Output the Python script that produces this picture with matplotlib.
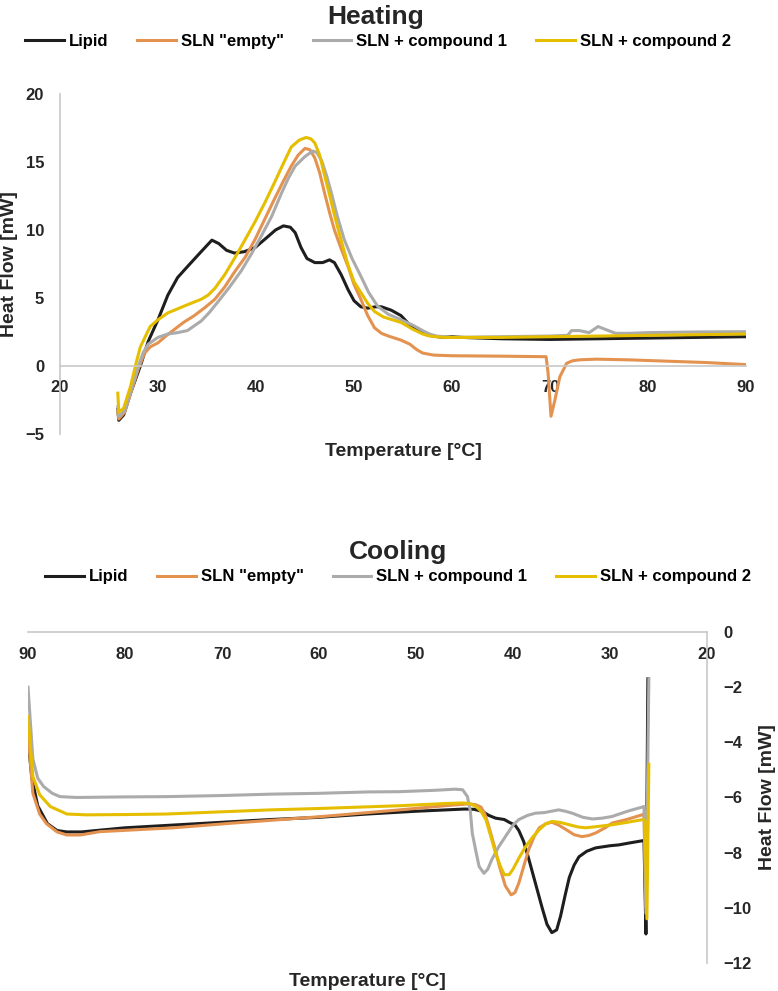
import matplotlib
matplotlib.use("Agg")
import matplotlib.pyplot as plt

plt.rcParams['font.family'] = ['Liberation Sans', 'DejaVu Sans']
plt.rcParams['font.weight'] = 'bold'

labels = ['Lipid', 'SLN "empty"', 'SLN + compound 1', 'SLN + compound 2']
colors = ['#1e1e1e', '#E39250', '#ABABAB', '#E6BE00']

# Heating curves (temperature in °C, heat flow in mW)
heat_lipid_t = [25.9, 26.0, 26.5, 27.2, 28.2, 29.0, 30.0, 31.0, 32.0, 33.0, 34.4, 35.5, 36.2, 37.0,
                37.8, 38.8, 39.9, 41.2, 42.0, 42.8, 43.5, 44.0, 44.6, 45.2, 46.0, 46.8, 47.5, 48.0,
                48.7, 49.4, 50.0, 50.7, 51.4, 52.2, 52.8, 53.8, 54.8, 55.7, 56.7, 57.7, 59.0, 60.0,
                61.0, 65.0, 70.0, 75.0, 80.0, 85.0, 90.0]
heat_lipid = [-3.2, -4.0, -3.6, -2.0, 0.0, 1.8, 3.4, 5.2, 6.5, 7.3, 8.4, 9.25, 9.0, 8.5,
              8.3, 8.4, 8.7, 9.5, 10.0, 10.3, 10.2, 9.8, 8.7, 7.9, 7.6, 7.6, 7.8, 7.6,
              6.7, 5.6, 4.8, 4.35, 4.25, 4.35, 4.35, 4.1, 3.7, 3.0, 2.5, 2.25, 2.1, 2.15,
              2.1, 2.0, 1.95, 2.0, 2.05, 2.1, 2.15]

heat_empty_t = [25.9, 26.0, 26.6, 27.3, 28.0, 28.6, 29.2, 30.0, 30.8, 31.7, 32.6, 33.7, 34.8, 35.8,
                36.8, 37.8, 38.9, 39.9, 40.9, 41.9, 42.8, 43.6, 44.3, 45.0, 45.5, 46.0, 46.5, 47.0,
                47.5, 48.0, 48.7, 49.4, 50.0, 50.7, 51.4, 52.1, 52.8, 53.5, 54.8, 55.7, 56.4, 57.0,
                58.1, 60.0, 65.0, 69.6, 69.8, 70.1, 70.5, 71.0, 71.7, 72.3, 73.0, 74.7, 78.0, 82.0,
                86.0, 90.0]
heat_empty = [-3.3, -3.9, -3.4, -1.8, -0.2, 0.9, 1.4, 1.7, 2.2, 2.7, 3.2, 3.7, 4.3, 4.9,
              5.8, 6.9, 8.0, 9.3, 10.8, 12.3, 13.6, 14.7, 15.5, 16.0, 15.9, 15.3, 14.2, 12.7,
              11.3, 10.0, 8.6, 7.3, 6.0, 4.9, 3.7, 2.8, 2.4, 2.2, 1.9, 1.6, 1.2, 0.95,
              0.8, 0.75, 0.72, 0.68, -0.5, -3.7, -2.5, -0.8, 0.2, 0.38, 0.45, 0.5, 0.45, 0.35,
              0.25, 0.1]

heat_c1_t = [25.9, 26.0, 26.6, 27.3, 28.0, 28.5, 29.0, 30.0, 31.0, 32.0, 33.0, 34.4, 35.2, 36.1,
             37.3, 38.5, 39.5, 40.5, 41.6, 42.6, 43.3, 44.0, 45.0, 45.8, 46.2, 46.7, 47.2, 47.7,
             48.3, 49.0, 49.8, 50.7, 51.5, 52.4, 53.5, 54.8, 56.0, 57.0, 57.7, 58.4, 60.0, 65.0,
             70.0, 71.8, 72.2, 73.0, 74.0, 74.9, 75.6, 76.7, 78.0, 80.0, 85.0, 90.0]
heat_c1 = [-3.0, -3.7, -3.3, -1.7, 0.0, 1.0, 1.6, 2.1, 2.35, 2.45, 2.6, 3.3, 3.9, 4.7,
           5.8, 7.0, 8.2, 9.5, 11.0, 12.7, 13.8, 14.7, 15.4, 15.8, 15.7, 15.1, 14.0, 12.7,
           11.0, 9.3, 7.9, 6.6, 5.4, 4.4, 3.8, 3.4, 3.0, 2.6, 2.35, 2.2, 2.1, 2.15,
           2.2, 2.25, 2.6, 2.6, 2.45, 2.9, 2.7, 2.4, 2.4, 2.45, 2.5, 2.52]

heat_c2_t = [25.9, 26.0, 26.5, 27.2, 27.8, 28.2, 29.2, 30.0, 31.0, 32.0, 33.0, 34.4, 35.1, 35.8,
             36.8, 37.8, 38.9, 39.9, 40.9, 41.9, 42.8, 43.6, 44.4, 45.1, 45.6, 46.0, 46.5, 47.0,
             47.5, 48.0, 48.7, 49.4, 50.0, 50.7, 51.4, 52.1, 53.0, 54.8, 56.0, 57.0, 57.7, 59.0,
             65.0, 70.0, 75.0, 80.0, 85.0, 90.0]
heat_c2 = [-2.0, -3.4, -3.1, -1.5, 0.3, 1.4, 2.9, 3.4, 3.9, 4.2, 4.5, 4.9, 5.2, 5.7,
           6.7, 7.9, 9.3, 10.6, 12.0, 13.5, 14.9, 16.1, 16.6, 16.8, 16.7, 16.4, 15.5, 14.0,
           12.6, 11.1, 9.2, 7.4, 6.2, 5.4, 4.6, 4.0, 3.6, 3.2, 2.7, 2.35, 2.2, 2.1,
           2.1, 2.15, 2.2, 2.25, 2.3, 2.35]

# Cooling curves (temperature falls from 90 °C)
cool_lipid_t = [90.0, 89.6, 89.0, 88.0, 87.0, 86.0, 84.5, 80.0, 75.0, 70.0, 65.0, 60.0, 55.0, 50.0,
                45.0, 44.0, 43.2, 42.5, 41.8, 40.9, 40.4, 39.8, 39.4, 38.9, 38.4, 37.7, 37.0, 36.5,
                36.0, 35.5, 35.1, 34.6, 34.2, 33.7, 33.2, 32.4, 31.5, 30.0, 29.1, 28.0, 26.5, 26.3,
                26.1]
cool_lipid = [-3.9, -5.3, -6.3, -6.95, -7.2, -7.25, -7.25, -7.1, -7.0, -6.9, -6.8, -6.72, -6.6, -6.5,
              -6.42, -6.43, -6.5, -6.65, -6.75, -6.8, -6.9, -7.0, -7.2, -7.6, -8.2, -9.1, -10.0, -10.6,
              -10.9, -10.8, -10.3, -9.5, -8.9, -8.45, -8.15, -7.95, -7.83, -7.75, -7.72, -7.65, -7.56, -10.95,
              -1.7]

cool_empty_t = [90.0, 89.5, 88.8, 88.1, 87.0, 86.0, 84.6, 82.6, 75.0, 68.9, 60.0, 51.7, 47.0, 44.5,
                43.8, 43.3, 42.9, 42.5, 41.9, 41.4, 40.8, 40.2, 39.8, 39.4, 38.9, 38.4, 37.8, 37.3,
                36.6, 36.0, 35.3, 34.6, 33.7, 32.9, 32.2, 31.5, 30.5, 29.8, 28.3, 26.7, 26.5, 26.3,
                26.1]
cool_empty = [-3.67, -5.85, -6.6, -6.95, -7.25, -7.36, -7.36, -7.24, -7.1, -6.93, -6.7, -6.45, -6.3, -6.23,
              -6.27, -6.35, -6.6, -7.05, -7.8, -8.5, -9.2, -9.53, -9.45, -9.1, -8.5, -7.9, -7.4, -7.1,
              -6.95, -6.9, -7.0, -7.15, -7.35, -7.42, -7.38, -7.29, -7.1, -6.93, -6.8, -6.63, -6.6, -10.0,
              -6.5]

cool_c1_t = [90.0, 89.5, 89.0, 88.4, 87.5, 86.7, 85.0, 80.0, 75.7, 70.0, 65.0, 60.0, 55.0, 51.7,
             48.0, 46.0, 45.2, 44.7, 44.4, 44.2, 43.8, 43.5, 43.0, 42.6, 42.2, 41.5, 40.75, 40.0,
             39.4, 38.5, 37.7, 36.8, 35.3, 34.6, 33.9, 32.8, 31.8, 30.8, 29.8, 28.2, 26.5, 26.3,
             26.0]
cool_c1 = [-2.0, -4.6, -5.3, -5.6, -5.85, -5.97, -6.0, -5.98, -5.97, -5.93, -5.88, -5.85, -5.8, -5.79,
           -5.74, -5.7, -5.72, -5.97, -6.5, -7.3, -8.0, -8.5, -8.75, -8.6, -8.26, -7.8, -7.4, -7.0,
           -6.8, -6.65, -6.57, -6.55, -6.45, -6.5, -6.57, -6.72, -6.78, -6.75, -6.69, -6.5, -6.33, -10.2,
           -1.7]

cool_c2_t = [90.0, 89.5, 88.8, 87.7, 86.0, 84.0, 80.0, 75.7, 70.0, 65.0, 60.0, 51.7, 47.0, 45.2,
             44.5, 43.8, 43.3, 42.8, 42.3, 41.8, 41.3, 40.9, 40.4, 40.0, 39.4, 38.7, 38.0, 37.3,
             36.6, 36.0, 35.2, 34.2, 33.3, 32.5, 31.2, 29.8, 28.2, 26.6, 26.4, 26.2, 26.0]
cool_c2 = [-3.07, -5.24, -5.9, -6.33, -6.6, -6.63, -6.62, -6.6, -6.52, -6.45, -6.4, -6.3, -6.22, -6.2,
           -6.22, -6.33, -6.5, -6.8, -7.4, -8.02, -8.5, -8.8, -8.8, -8.6, -8.2, -7.78, -7.45, -7.17,
           -6.95, -6.87, -6.9, -6.99, -7.07, -7.1, -7.05, -6.99, -6.9, -6.8, -6.85, -10.4, -4.8]

heat_series = [(heat_lipid_t, heat_lipid), (heat_empty_t, heat_empty),
               (heat_c1_t, heat_c1), (heat_c2_t, heat_c2)]
cool_series = [(cool_lipid_t, cool_lipid), (cool_empty_t, cool_empty),
               (cool_c1_t, cool_c1), (cool_c2_t, cool_c2)]

spine_col = '#c8c8c8'
text_col = '#262626'
legend_kw = dict(loc='center', ncol=4, frameon=False, handlelength=2.3, handletextpad=0.3,
                 columnspacing=1.75, prop={'weight': 'bold', 'size': 12})

fig = plt.figure(figsize=(7.78, 9.91), dpi=100)

# ---- Heating ----
ax1 = fig.add_axes([0.0771, 0.5621, 0.8818, 0.3431])
for (t, v), c, lab in zip(heat_series, colors, labels):
    ax1.plot(t, v, color=c, lw=2.2, label=lab)
ax1.set_xlim(20, 90)
ax1.set_ylim(-5, 20)
ax1.set_xticks(range(20, 91, 10))
ax1.set_yticks(range(-5, 21, 5))
ax1.spines['top'].set_visible(False)
ax1.spines['right'].set_visible(False)
ax1.spines['bottom'].set_position(('data', 0))
for s in ['left', 'bottom']:
    ax1.spines[s].set_color(spine_col)
    ax1.spines[s].set_linewidth(1.2)
ax1.tick_params(axis='both', length=0, labelsize=12, labelcolor=text_col)
ax1.tick_params(axis='x', pad=10)
ax1.tick_params(axis='y', pad=11.5)
for lbl in ax1.get_xticklabels() + ax1.get_yticklabels():
    lbl.set_fontweight('bold')
ax1.set_xlabel('Temperature [°C]', fontsize=14, fontweight='bold', color=text_col, va='baseline')
ax1.xaxis.set_label_coords(0.5, -0.0647)
ax1.set_ylabel('Heat Flow [mW]', fontsize=14, fontweight='bold', color=text_col, va='center')
ax1.yaxis.set_label_coords(-0.073, 0.5)
fig.text(0.4833, 0.9758, 'Heating', fontsize=19, fontweight='bold', color=text_col,
         ha='center', va='baseline')
fig.legend(*ax1.get_legend_handles_labels(), bbox_to_anchor=(0.486, 0.9586), **legend_kw)

# ---- Cooling ----
ax2 = fig.add_axes([0.036, 0.0283, 0.8728, 0.334])
for (t, v), c, lab in zip(cool_series, colors, labels):
    ax2.plot(t, v, color=c, lw=2.2, label=lab)
ax2.set_xlim(90, 20)
ax2.set_ylim(-12, 0)
ax2.set_xticks(range(90, 19, -10))
ax2.set_yticks(range(-12, 1, 2))
ax2.yaxis.tick_right()
ax2.yaxis.set_label_position('right')
ax2.spines['top'].set_visible(False)
ax2.spines['left'].set_visible(False)
ax2.spines['bottom'].set_position(('data', 0))
for s in ['right', 'bottom']:
    ax2.spines[s].set_color(spine_col)
    ax2.spines[s].set_linewidth(1.2)
ax2.tick_params(axis='both', length=0, labelsize=12, labelcolor=text_col)
ax2.tick_params(axis='x', pad=10.5)
ax2.tick_params(axis='y', pad=11.5)
for lbl in ax2.get_xticklabels() + ax2.get_yticklabels():
    lbl.set_fontweight('bold')
ax2.set_xlabel('Temperature [°C]', fontsize=14, fontweight='bold', color=text_col, va='baseline')
ax2.xaxis.set_label_coords(0.5, -0.0695)
ax2.set_ylabel('Heat Flow [mW]', fontsize=14, fontweight='bold', color=text_col, va='center',
               rotation=90)
ax2.yaxis.set_label_coords(1.0884, 0.5)
fig.text(0.5116, 0.4359, 'Cooling', fontsize=19, fontweight='bold', color=text_col,
         ha='center', va='baseline')
fig.legend(*ax2.get_legend_handles_labels(), bbox_to_anchor=(0.5116, 0.4178), **legend_kw)

fig.savefig('out.png', dpi=100)
